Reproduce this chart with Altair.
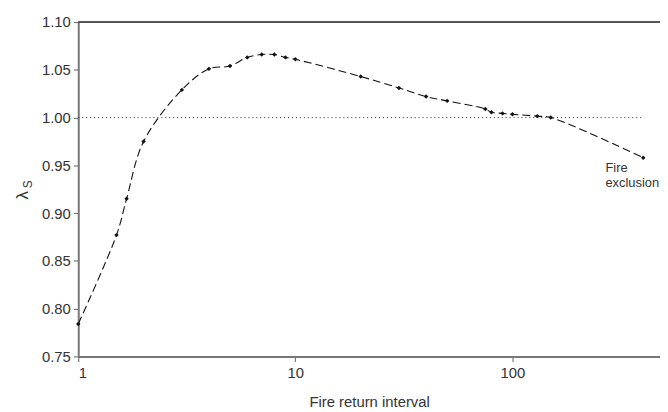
import altair as alt
import pandas as pd

interval = [1, 1.5, 1.67, 2, 3, 4, 5, 6, 7, 8, 9, 10, 20, 30, 40, 50, 75, 80, 90, 100, 130, 150, 400]
lam = [0.784, 0.877, 0.915, 0.975, 1.029, 1.051, 1.054, 1.063, 1.066, 1.066, 1.063, 1.061,
       1.043, 1.031, 1.022, 1.0175, 1.009, 1.0055, 1.0044, 1.0034, 1.0015, 1.000, 0.958]

x_ticks = [1, 10, 100]
y_ticks = [0.75, 0.80, 0.85, 0.90, 0.95, 1.00, 1.05, 1.10]

df = pd.DataFrame({"interval": interval, "lam": lam})

FONT = "Liberation Sans"
TXT = "#333333"

xs = alt.Scale(type="log", domain=[1, 478], nice=False)
ys = alt.Scale(domain=[0.75, 1.10], nice=False, zero=False)

xax = alt.Axis(values=x_ticks, format="d", grid=False, title="Fire return interval",
               domainColor="#777777", domainWidth=2, tickColor="#777777", tickSize=5,
               tickWidth=1.2, labelFont=FONT, labelFontSize=15, labelColor=TXT, labelPadding=4,
               titleFont=FONT, titleFontSize=15, titleFontWeight="normal", titleColor=TXT,
               titlePadding=15)
yax = alt.Axis(values=y_ticks, format=".2f", grid=False, title=None,
               domainColor="#777777", domainWidth=2, tickColor="#777777", tickSize=5,
               tickWidth=1.2, labelFont=FONT, labelFontSize=15, labelColor=TXT, labelPadding=3)

base = alt.Chart(df)

line = base.mark_line(color="#111111", strokeWidth=1.1, strokeDash=[8, 4],
                      interpolate="catmull-rom").encode(
    x=alt.X("interval:Q", scale=xs, axis=xax),
    y=alt.Y("lam:Q", scale=ys, axis=yax),
)
pts = base.mark_point(shape="diamond", filled=True, color="#111111", size=20, opacity=1).encode(
    x=alt.X("interval:Q", scale=xs),
    y=alt.Y("lam:Q", scale=ys),
)

ref = alt.Chart(pd.DataFrame({"a": [1], "b": [400], "y": [1.0]})).mark_rule(
    color="#222222", strokeWidth=1, strokeDash=[1, 3]).encode(
    x=alt.X("a:Q", scale=xs), x2="b:Q", y=alt.Y("y:Q", scale=ys))

top = alt.Chart(pd.DataFrame({"y": [1.10]})).mark_rule(color="#222222", strokeWidth=1.5).encode(
    y=alt.Y("y:Q", scale=ys))

ann_df = pd.DataFrame({"x": [268], "y": [0.958]})
ann1 = alt.Chart(ann_df).mark_text(
    align="left", baseline="middle", font=FONT, fontSize=13, color=TXT, dy=10, text="Fire").encode(
    x=alt.X("x:Q", scale=xs), y=alt.Y("y:Q", scale=ys))
ann2 = alt.Chart(ann_df).mark_text(
    align="left", baseline="middle", font=FONT, fontSize=13, color=TXT, dy=26, text="exclusion").encode(
    x=alt.X("x:Q", scale=xs), y=alt.Y("y:Q", scale=ys))

lam_t = alt.Chart(pd.DataFrame({"t": ["λ"]})).mark_text(
    angle=270, font=FONT, fontSize=17, color=TXT, baseline="middle", align="center").encode(
    x=alt.value(-56), y=alt.value(175), text="t:N")
sub_t = alt.Chart(pd.DataFrame({"t": ["S"]})).mark_text(
    angle=270, font=FONT, fontSize=12, color=TXT, baseline="middle", align="center").encode(
    x=alt.value(-51), y=alt.value(164), text="t:N")

chart = alt.layer(ref, top, line, pts, ann1, ann2, lam_t, sub_t).properties(
    width=588, height=338,
    autosize=alt.AutoSizeParams(type="none"),
    padding={"left": 71, "top": 12, "right": 0, "bottom": 58},
).configure_view(stroke=None).configure(background="white")

chart.save("out.html", embed_options={"renderer": "svg", "actions": False})
